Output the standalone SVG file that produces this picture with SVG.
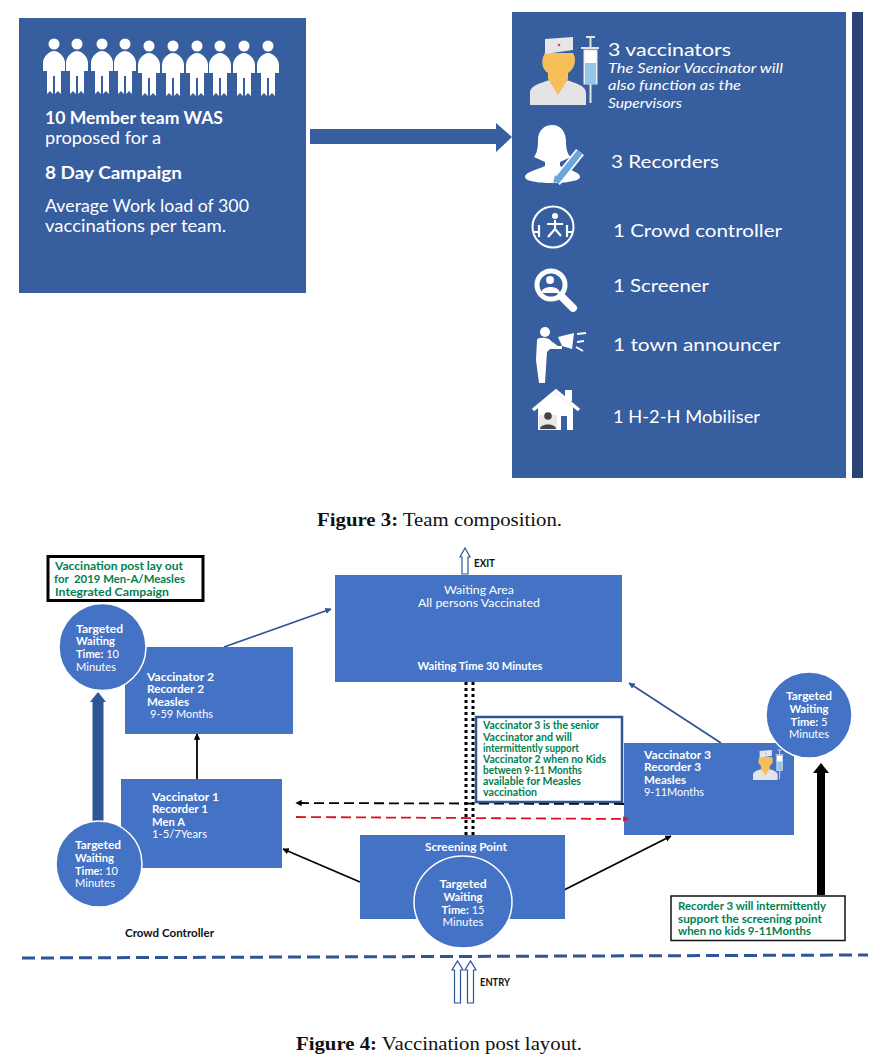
<svg xmlns="http://www.w3.org/2000/svg" xmlns:xlink="http://www.w3.org/1999/xlink" width="878" height="1056" viewBox="0 0 878 1056">
<style>
text{font-family:"Lato","Open Sans","Liberation Sans",sans-serif}
.p{fill:#375e9f}
.w{fill:#fff}
.t1{font-size:16.500px}
.b{font-weight:700}
.s{font-size:11px;fill:#fff}
.g{font-size:10.5px;font-weight:700;fill:#008050}
.k{font-size:10.5px;font-weight:700;fill:#111}
.n{fill:#4472c4}
.cap{font-family:"Liberation Serif","Times New Roman",serif;font-size:18.5px;fill:#111}
.c{stroke-width:1.8;fill:none}
.ring{fill:#4472c4;stroke:#fff;stroke-width:1.5}
.hollow{fill:#fff;stroke:#2f5597;stroke-width:1.2}
</style>
<defs>
<symbol id="person" overflow="visible"><circle cx="0" cy="0" r="5.5" fill="#fff"/><path fill="#fff" d="M0 7 C-5 7 -11 13 -11 19 V27 H-7 V20 H-7 V50 L-4 47 L-1 50 V32 H1 V50 L4 47 L7 50 V20 V27 H11 V19 C11 13 5 7 0 7Z"/></symbol>
<symbol id="nurse" overflow="visible">
<path fill="#e4e4e4" d="M0 68 V56 C0 48 12 46 22 42 H34 C44 46 56 48 56 56 V68Z"/>
<path fill="#f6bf5a" d="M15 16 H43 C47 22 45 32 38 36 V42 L28 58 L18 42 V36 C11 32 11 22 15 16Z"/>
<path fill="#e6e6e6" d="M15 2 L43 0 V13 L15 17Z"/><circle cx="29" cy="8" r="1.3" fill="#e04040"/>
<path fill="none" stroke="#e4e4e4" stroke-width="2" d="M56 0 H65 M60.500 0 V12 M51 11 H69"/>
<rect x="54" y="13" width="13" height="34" fill="#fff" stroke="#e4e4e4"/><rect x="55" y="26" width="11" height="21" fill="#93c7e6"/>
<path d="M60.500 47 V66" stroke="#e4e4e4" stroke-width="2"/>
</symbol>
<marker id="ah" viewBox="0 0 10 10" refX="9" refY="5" markerWidth="3.500" markerHeight="3.500" orient="auto"><path d="M0 0 L10 5 L0 10Z" fill="#000"/></marker>
<marker id="ahb" viewBox="0 0 10 10" refX="9" refY="5" markerWidth="3.500" markerHeight="3.500" orient="auto"><path d="M0 0 L10 5 L0 10Z" fill="#2f5597"/></marker>
<marker id="ahr" viewBox="0 0 10 10" refX="9" refY="5" markerWidth="3" markerHeight="3" orient="auto"><path d="M0 0 L10 5 L0 10Z" fill="#e01020"/></marker>
</defs>
<rect width="878" height="1056" fill="#fff"/>

<g id="team-summary">
<rect class="p" x="19" y="18" width="287" height="275"/>
<use xlink:href="#person" href="#person" x="54" y="44"/><use xlink:href="#person" href="#person" x="77" y="44"/><use xlink:href="#person" href="#person" x="102" y="44"/><use xlink:href="#person" href="#person" x="125" y="44"/><use xlink:href="#person" href="#person" x="149" y="46"/><use xlink:href="#person" href="#person" x="173" y="46"/><use xlink:href="#person" href="#person" x="197" y="46"/><use xlink:href="#person" href="#person" x="220" y="46"/><use xlink:href="#person" href="#person" x="244" y="46"/><use xlink:href="#person" href="#person" x="268" y="46"/>
<text class="w t1 b" x="45" y="124" textLength="178" lengthAdjust="spacingAndGlyphs">10 Member team WAS</text>
<text class="w t1" x="45" y="144" textLength="116" lengthAdjust="spacingAndGlyphs">proposed for a</text>
<text class="w t1 b" x="45" y="179" textLength="137" lengthAdjust="spacingAndGlyphs">8 Day Campaign</text>
<text class="w t1" x="45" y="212" textLength="204" lengthAdjust="spacingAndGlyphs">Average Work load of 300</text>
<text class="w t1" x="45" y="232" textLength="181" lengthAdjust="spacingAndGlyphs">vaccinations per team.</text>
</g>

<g id="connectors-top"><path class="p" d="M310 129 H496 V123 L512 137 L496 152 V144 H310Z"/></g>

<g id="team-roles">
<rect class="p" x="512" y="12" width="334" height="466"/>
<rect x="852" y="12" width="11" height="466" fill="#2b4475"/>
<use xlink:href="#nurse" href="#nurse" x="530" y="37"/>
<text class="w" font-size="18" x="608" y="56" textLength="123" lengthAdjust="spacingAndGlyphs">3 vaccinators</text>
<g class="w" font-size="13.500" font-style="italic">
<text x="608" y="73" textLength="175" lengthAdjust="spacingAndGlyphs">The Senior Vaccinator will</text>
<text x="608" y="90" textLength="133" lengthAdjust="spacingAndGlyphs">also function as the</text>
<text x="608" y="108" textLength="74" lengthAdjust="spacingAndGlyphs">Supervisors</text>
</g>
<g class="w" font-size="18">
<text x="611" y="168" textLength="108" lengthAdjust="spacingAndGlyphs">3 Recorders</text>
<text x="613" y="237" textLength="169" lengthAdjust="spacingAndGlyphs">1 Crowd controller</text>
<text x="613" y="292" textLength="96" lengthAdjust="spacingAndGlyphs">1 Screener</text>
<text x="613" y="351" textLength="167" lengthAdjust="spacingAndGlyphs">1 town announcer</text>
<text x="613" y="423" textLength="147" lengthAdjust="spacingAndGlyphs">1 H-2-H Mobiliser</text>
</g>
<path fill="#fff" d="M552 125 C562 125 566 133 566 142 C566 150 568 155 571 157 L560 162 V166 C570 170 580 172 580 177 C580 181 565 183 552 183 C538 183 525 181 525 177 C525 172 536 170 545 166 V162 L534 157 C537 153 538 148 538 140 C538 131 544 125 552 125Z"/>
<path d="M556 182 L580 152" stroke="#fff" stroke-width="10" fill="none"/>
<path d="M556 182 L580 152" stroke="#6ba6da" stroke-width="6.500" fill="none"/>
<path d="M553 184 L555 175 L560 179Z" fill="#6ba6da"/>
<circle cx="553" cy="227" r="20.500" fill="none" stroke="#fff" stroke-width="2"/>
<circle cx="555" cy="216" r="3" fill="#fff"/>
<path d="M555 220 V229 M555 229 L548 237 M555 229 L561 236 M547 224 L563 224 M539 225 V237 M567 225 V237 M533 232 H539 M567 232 H573" stroke="#fff" stroke-width="2.200" fill="none"/>
<circle cx="551" cy="285" r="14" fill="none" stroke="#fff" stroke-width="5"/>
<circle cx="550" cy="280" r="4" fill="#fff"/>
<path d="M541 293 C542 285 559 285 560 293Z" fill="#fff"/>
<path d="M561 296 L573 308" stroke="#fff" stroke-width="8" stroke-linecap="round"/>
<circle cx="545" cy="332" r="5" fill="#fff"/>
<path d="M537 340 C537 337 549 337 551 341 L558 346 L562 346 V349 L550 349 L547 352 L545 383 H539 L536 360Z" fill="#fff"/>
<path d="M558 337 L574 333 L572 349 L562 346Z" fill="#fff"/>
<path d="M577 334 L586 333 M577 342 L584 341 M576 347 L583 351" stroke="#fff" stroke-width="1.800"/>
<path d="M538 407 L556 393 L573 407 V430 H538Z" fill="#fff"/>
<path d="M533 410 L556 391 L579 410" fill="none" stroke="#fff" stroke-width="3.500"/>
<rect x="565" y="390" width="7" height="11" fill="#fff"/>
<rect x="539" y="415" width="18" height="15" fill="#e8e8e8"/>
<circle cx="548" cy="416" r="3.800" fill="#444"/>
<path d="M540 429 C540 423 556 423 556 429Z" fill="#444"/>
<rect x="561" y="416" width="6" height="14" fill="#375e9f"/>
</g>

<text id="caption-3" class="cap" x="317" y="526" textLength="245" lengthAdjust="spacingAndGlyphs"><tspan font-weight="700">Figure 3:</tspan> Team composition.</text>

<g id="connectors">
<path stroke="#000" stroke-width="3" stroke-dasharray="3 3" fill="none" d="M466 682 V836 M473 682 V836"/>
<path class="c" stroke="#2f5597" marker-end="url(#ahb)" d="M224 647 L331 609"/>
<path class="c" stroke="#2f5597" marker-end="url(#ahb)" d="M721 743 L629 683"/>
<path class="c" stroke="#000" marker-end="url(#ah)" d="M197 779 V734"/>
<path class="c" stroke="#000" marker-end="url(#ah)" d="M360 882 L283 849"/>
<path class="c" stroke="#000" marker-end="url(#ah)" d="M564 890 L671 836"/>
<path d="M98 824 V701" stroke="#2f5597" stroke-width="11" fill="none"/><path d="M90 702 L98 692 L106 702Z" fill="#2f5597"/>
<path d="M821 895 V772" stroke="#000" stroke-width="8" fill="none"/><path d="M813 773 L821 763 L829 773Z" fill="#000"/>
<path d="M22 958 L868 955" stroke="#2f5597" stroke-width="3" stroke-dasharray="13 6" fill="none"/>
</g>

<g id="waiting-area">
<rect class="n" x="335" y="575" width="287" height="107"/>
<text class="s" x="479" y="594" text-anchor="middle" textLength="70" lengthAdjust="spacingAndGlyphs">Waiting Area</text>
<text class="s" x="479" y="607" text-anchor="middle" textLength="122" lengthAdjust="spacingAndGlyphs">All persons Vaccinated</text>
<text class="s b" x="480" y="670" text-anchor="middle" textLength="125" lengthAdjust="spacingAndGlyphs">Waiting Time 30 Minutes</text>
</g>
<g id="exit"><path class="hollow" d="M462 574 V557 H460 L465 548 L470 557 H468 V574Z"/>
<text class="k" x="474" y="567" textLength="21" lengthAdjust="spacingAndGlyphs">EXIT</text></g>

<g id="title-box">
<rect x="48" y="556.500" width="155" height="44" fill="#fff" stroke="#000" stroke-width="3"/>
<text class="g" x="55" y="570" textLength="128" lengthAdjust="spacingAndGlyphs">Vaccination post lay out</text>
<text class="g" x="54" y="583" textLength="131" lengthAdjust="spacingAndGlyphs" xml:space="preserve">for  2019 Men-A/Measles</text>
<text class="g" x="55" y="596" textLength="114" lengthAdjust="spacingAndGlyphs">Integrated Campaign</text>
</g>

<g id="vaccinator-2">
<rect class="n" x="125" y="647" width="168" height="87"/>
<text class="s b" x="147" y="681" textLength="67" lengthAdjust="spacingAndGlyphs">Vaccinator 2</text>
<text class="s b" x="147" y="693" textLength="57" lengthAdjust="spacingAndGlyphs">Recorder 2</text>
<text class="s b" x="147" y="706" textLength="42" lengthAdjust="spacingAndGlyphs">Measles</text>
<text class="s" x="150" y="718" textLength="63" lengthAdjust="spacingAndGlyphs">9-59 Months</text>
</g>
<g id="wait-v2">
<circle class="ring" cx="102.500" cy="647" r="43.500"/>
<text class="s b" x="76" y="633" textLength="47" lengthAdjust="spacingAndGlyphs">Targeted</text>
<text class="s b" x="76" y="645" textLength="39" lengthAdjust="spacingAndGlyphs">Waiting</text>
<text class="s" x="76" y="658" textLength="43" lengthAdjust="spacingAndGlyphs"><tspan font-weight="700">Time:</tspan> 10</text>
<text class="s" x="76" y="671" textLength="40" lengthAdjust="spacingAndGlyphs">Minutes</text>
</g>

<g id="vaccinator-1">
<rect class="n" x="121" y="779" width="161" height="89"/>
<text class="s b" x="152" y="801" textLength="67" lengthAdjust="spacingAndGlyphs">Vaccinator 1</text>
<text class="s b" x="152" y="813" textLength="56" lengthAdjust="spacingAndGlyphs">Recorder 1</text>
<text class="s b" x="152" y="826" textLength="33" lengthAdjust="spacingAndGlyphs">Men A</text>
<text class="s" x="152" y="838" textLength="55" lengthAdjust="spacingAndGlyphs">1-5/7Years</text>
</g>
<g id="wait-v1">
<circle class="ring" cx="99" cy="864" r="43"/>
<text class="s b" x="75" y="849" textLength="46" lengthAdjust="spacingAndGlyphs">Targeted</text>
<text class="s b" x="75" y="862" textLength="39" lengthAdjust="spacingAndGlyphs">Waiting</text>
<text class="s" x="75" y="875" textLength="43" lengthAdjust="spacingAndGlyphs"><tspan font-weight="700">Time:</tspan> 10</text>
<text class="s" x="75" y="887" textLength="40" lengthAdjust="spacingAndGlyphs">Minutes</text>
</g>

<g id="vaccinator-3">
<rect class="n" x="624" y="743" width="170" height="92"/>
<text class="s b" x="644" y="759" textLength="67" lengthAdjust="spacingAndGlyphs">Vaccinator 3</text>
<text class="s b" x="644" y="771" textLength="57" lengthAdjust="spacingAndGlyphs">Recorder 3</text>
<text class="s b" x="644" y="784" textLength="42" lengthAdjust="spacingAndGlyphs">Measles</text>
<text class="s" x="644" y="796" textLength="60" lengthAdjust="spacingAndGlyphs">9-11Months</text>
<use xlink:href="#nurse" href="#nurse" transform="translate(753 750) scale(.44)"/>
</g>
<g id="wait-v3">
<circle class="ring" cx="809" cy="715" r="43"/>
<text class="s b" x="809" y="700" text-anchor="middle" textLength="46" lengthAdjust="spacingAndGlyphs">Targeted</text>
<text class="s b" x="809" y="713" text-anchor="middle" textLength="39" lengthAdjust="spacingAndGlyphs">Waiting</text>
<text class="s" x="809" y="726" text-anchor="middle" textLength="37" lengthAdjust="spacingAndGlyphs"><tspan font-weight="700">Time:</tspan> 5</text>
<text class="s" x="809" y="738" text-anchor="middle" textLength="40" lengthAdjust="spacingAndGlyphs">Minutes</text>
</g>

<g id="dashed-connectors">
<path class="c" stroke="#000" stroke-dasharray="10 5" marker-end="url(#ah)" d="M624 804 L296 803"/>
<path class="c" stroke="#e01020" stroke-dasharray="10 5" marker-end="url(#ahr)" d="M296 817 L628 819"/>
</g>

<g id="note-senior">
<rect x="476" y="717" width="146" height="85" fill="#fff" stroke="#2f5597" stroke-width="2.500"/>
<text class="g" x="483" y="729" textLength="116" lengthAdjust="spacingAndGlyphs">Vaccinator 3 is the senior</text>
<text class="g" x="483" y="741" textLength="89" lengthAdjust="spacingAndGlyphs">Vaccinator and will</text>
<text class="g" x="483" y="752" textLength="96" lengthAdjust="spacingAndGlyphs">intermittently support</text>
<text class="g" x="483" y="763" textLength="123" lengthAdjust="spacingAndGlyphs">Vaccinator 2 when no Kids</text>
<text class="g" x="483" y="774" textLength="99" lengthAdjust="spacingAndGlyphs">between 9-11 Months</text>
<text class="g" x="483" y="785" textLength="98" lengthAdjust="spacingAndGlyphs">available for Measles</text>
<text class="g" x="483" y="796" textLength="54" lengthAdjust="spacingAndGlyphs">vaccination</text>
</g>

<g id="screening-point">
<rect class="n" x="360" y="835" width="205" height="84"/>
<text class="s b" x="466" y="851" text-anchor="middle" textLength="82" lengthAdjust="spacingAndGlyphs">Screening Point</text>
<ellipse class="ring" cx="463" cy="902" rx="49" ry="46"/>
<text class="s b" x="463" y="888" text-anchor="middle" textLength="47" lengthAdjust="spacingAndGlyphs">Targeted</text>
<text class="s b" x="463" y="901" text-anchor="middle" textLength="39" lengthAdjust="spacingAndGlyphs">Waiting</text>
<text class="s" x="463" y="914" text-anchor="middle" textLength="43" lengthAdjust="spacingAndGlyphs"><tspan font-weight="700">Time:</tspan> 15</text>
<text class="s" x="463" y="926" text-anchor="middle" textLength="41" lengthAdjust="spacingAndGlyphs">Minutes</text>
</g>

<g id="note-recorder">
<rect x="671" y="896" width="174" height="44.500" fill="#fff" stroke="#111" stroke-width="1.500"/>
<text class="g" x="678" y="910" textLength="148" lengthAdjust="spacingAndGlyphs">Recorder 3 will intermittently</text>
<text class="g" x="678" y="923" textLength="144" lengthAdjust="spacingAndGlyphs">support the screening point</text>
<text class="g" x="678" y="935" textLength="133" lengthAdjust="spacingAndGlyphs">when no kids 9-11Months</text>
</g>

<text id="crowd-controller" class="k" x="125" y="937" textLength="89" lengthAdjust="spacingAndGlyphs">Crowd Controller</text>

<g id="entry">
<path class="hollow" d="M454.500 1003 V970 H452 L457.500 961 L463 970 H460.500 V1003Z"/>
<path class="hollow" d="M467.500 1003 V970 H465 L470.500 961 L476 970 H473.500 V1003Z"/>
<text class="k" x="480" y="986" textLength="30" lengthAdjust="spacingAndGlyphs">ENTRY</text>
</g>

<text id="caption-4" class="cap" x="296" y="1050" textLength="286" lengthAdjust="spacingAndGlyphs"><tspan font-weight="700">Figure 4:</tspan> Vaccination post layout.</text>
</svg>
